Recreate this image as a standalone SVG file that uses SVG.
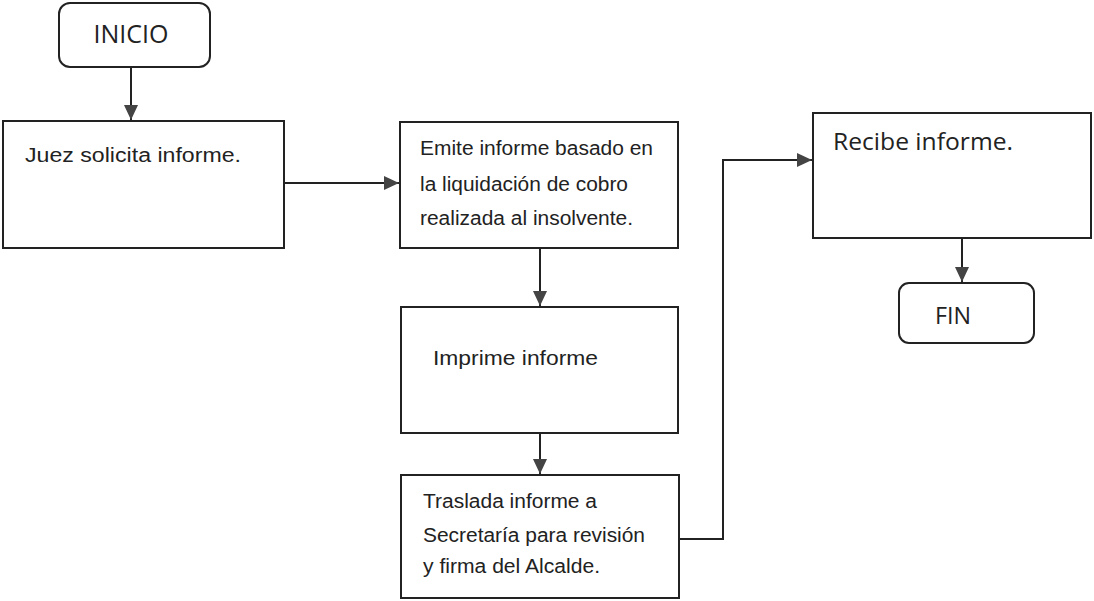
<svg xmlns="http://www.w3.org/2000/svg" width="1094" height="601" viewBox="0 0 1094 601">
<style>
.box{fill:#fff;stroke:#222;stroke-width:2}
.term{fill:#fff;stroke:#222;stroke-width:2}
.a{font-family:"Liberation Sans",Arial,sans-serif;font-size:20px;fill:#222}
.c{font-family:"Open Sans","Noto Sans",sans-serif;fill:#222}
.ln{fill:none;stroke:#222;stroke-width:2}
</style>
<defs>
<marker id="ah" markerWidth="15" markerHeight="14" refX="15" refY="7" orient="auto" markerUnits="userSpaceOnUse">
<path d="M0,0 L15,7 L0,14 Z" fill="#444"/>
</marker>
</defs>
<rect width="1094" height="601" fill="#fff"/>
<g id="connectors">
<line class="ln" x1="131" y1="68" x2="131" y2="120" marker-end="url(#ah)"/>
<line class="ln" x1="285" y1="183" x2="399" y2="183" marker-end="url(#ah)"/>
<line class="ln" x1="540" y1="249" x2="540" y2="306" marker-end="url(#ah)"/>
<line class="ln" x1="540" y1="434" x2="540" y2="474" marker-end="url(#ah)"/>
<polyline class="ln" points="680,539 723,539 723,160 812,160" marker-end="url(#ah)"/>
<line class="ln" x1="962" y1="239" x2="962" y2="282" marker-end="url(#ah)"/>
</g>
<g id="inicio">
<rect class="term" x="59" y="3" width="151" height="64" rx="11"/>
<text class="c" x="131" y="43" font-size="25" text-anchor="middle" textLength="75" lengthAdjust="spacingAndGlyphs">INICIO</text>
</g>
<g id="juez">
<rect class="box" x="3" y="121" width="281" height="127"/>
<text class="a" x="25" y="162" textLength="216" lengthAdjust="spacingAndGlyphs">Juez solicita informe.</text>
</g>
<g id="emite">
<rect class="box" x="400" y="122" width="278" height="126"/>
<text class="a" x="420" y="155" textLength="233" lengthAdjust="spacingAndGlyphs">Emite informe basado en</text>
<text class="a" x="420" y="191" textLength="208" lengthAdjust="spacingAndGlyphs">la liquidación de cobro</text>
<text class="a" x="420" y="225" textLength="213" lengthAdjust="spacingAndGlyphs">realizada al insolvente.</text>
</g>
<g id="imprime">
<rect class="box" x="401" y="307" width="277" height="126"/>
<text class="a" x="433" y="365" textLength="165" lengthAdjust="spacingAndGlyphs">Imprime informe</text>
</g>
<g id="traslada">
<rect class="box" x="401" y="475" width="278" height="123"/>
<text class="a" x="423" y="508" textLength="174" lengthAdjust="spacingAndGlyphs">Traslada informe a</text>
<text class="a" x="423" y="542" textLength="222" lengthAdjust="spacingAndGlyphs">Secretaría para revisión</text>
<text class="a" x="423" y="573" textLength="177" lengthAdjust="spacingAndGlyphs">y firma del Alcalde.</text>
</g>
<g id="recibe">
<rect class="box" x="813" y="113" width="278" height="125"/>
<text class="c" x="833" y="150" font-size="23" textLength="180" lengthAdjust="spacingAndGlyphs">Recibe informe.</text>
</g>
<g id="fin">
<rect class="term" x="899" y="283" width="135" height="60" rx="10"/>
<text class="c" x="953" y="324" font-size="23" text-anchor="middle" textLength="36" lengthAdjust="spacingAndGlyphs">FIN</text>
</g>
</svg>
